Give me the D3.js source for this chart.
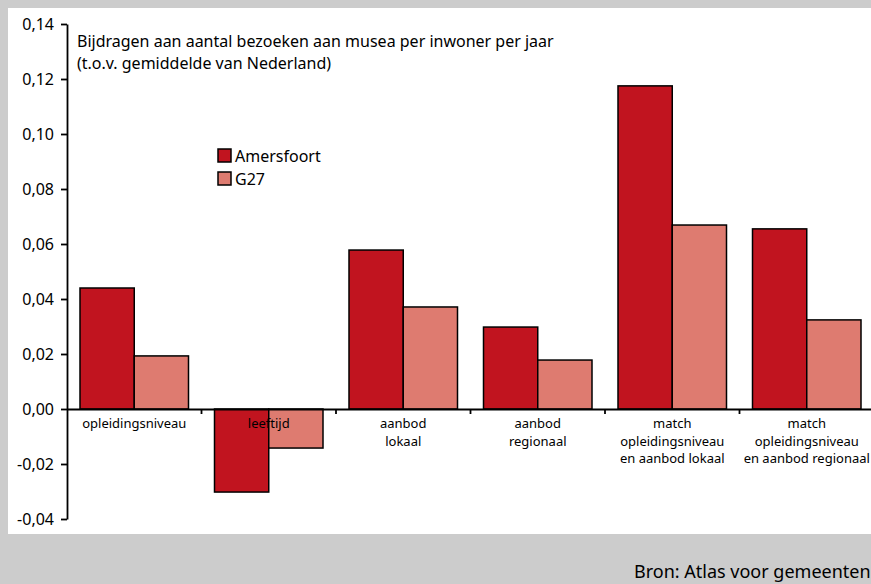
<!DOCTYPE html>
<html>
<head>
<meta charset="utf-8">
<script src="https://cdn.jsdelivr.net/npm/d3@7"></script>
<style>
  body { margin: 0; background: #cccccc; }
  text { font-family: "Noto Sans", sans-serif; fill: #000; }
</style>
</head>
<body>
<script>
// categories (each label split in lines as in the chart)
const categories = ["opleidingsniveau", "leeftijd", "aanbod lokaal", "aanbod regionaal",
    "match lokaal", "match regionaal"];
const categoryLines = [
    ["opleidingsniveau"],
    ["leeftijd"],
    ["aanbod", "lokaal"],
    ["aanbod", "regionaal"],
    ["match", "opleidingsniveau", "en aanbod lokaal"],
    ["match", "opleidingsniveau", "en aanbod regionaal"]
];
const series = ["Amersfoort", "G27"];
const amersfoort = [0.044, -0.0302, 0.0578, 0.0298, 0.1175, 0.0655];
const g27 = [0.0193, -0.0142, 0.0371, 0.0178, 0.0669, 0.0324];
const yTicks = [-0.04, -0.02, 0, 0.02, 0.04, 0.06, 0.08, 0.10, 0.12, 0.14];
const colors = ["#c1141f", "#de7b70"];

const width = 871;
const height = 584;

const svg = d3.select("body")
    .append("svg")
    .attr("width", width)
    .attr("height", height);

// grey page with white panel
svg.append("rect").attr("width", width).attr("height", height).attr("fill", "#cccccc");
svg.append("rect").attr("x", 8).attr("y", 8).attr("width", width).attr("height", 526).attr("fill", "#fff");

const nl = d3.formatLocale({decimal: ",", thousands: ".", grouping: [3], currency: ["€", ""], minus: "-"});
const fmt = nl.format(".2f");

const y = d3.scaleLinear().domain([-0.04, 0.14]).range([519, 24]);
const x0 = d3.scaleBand().domain(categories).range([67, 874]);
const x1 = d3.scaleBand().domain(series).range([13, x0.bandwidth() - 13]);

const rows = categories.map((c, i) => ({cat: c, values: [amersfoort[i], g27[i]]}));

// bars
const g = svg.append("g");
g.selectAll("g")
    .data(rows)
    .join("g")
    .attr("transform", d => `translate(${x0(d.cat)},0)`)
    .selectAll("rect")
    .data(d => d.values.map((v, k) => ({s: series[k], v: v, k: k})))
    .join("rect")
    .attr("x", d => x1(d.s))
    .attr("width", x1.bandwidth())
    .attr("y", d => y(Math.max(0, d.v)))
    .attr("height", d => Math.abs(y(d.v) - y(0)))
    .attr("fill", d => colors[d.k])
    .attr("stroke", "#000")
    .attr("stroke-width", 1.5);

// category labels (on top of the bars, like the original)
const lab = svg.append("g");
rows.forEach((r, i) => {
    const t = lab.append("text")
        .attr("x", x0(r.cat) + x0.bandwidth() / 2)
        .attr("y", y(0) + 19)
        .attr("text-anchor", "middle")
        .attr("font-size", 13);
    categoryLines[i].forEach((line, j) => {
        t.append("tspan")
            .attr("x", x0(r.cat) + x0.bandwidth() / 2)
            .attr("dy", j === 0 ? 0 : 17.5)
            .text(line);
    });
});

// y axis
const yAxis = svg.append("g")
    .attr("transform", "translate(67,0)")
    .call(d3.axisLeft(y).tickValues(yTicks).tickFormat(fmt).tickSize(6).tickSizeOuter(0).tickPadding(7));
yAxis.select(".domain").attr("stroke-width", 1.8);
yAxis.selectAll(".tick line").attr("stroke-width", 1.8);
yAxis.selectAll("text").attr("font-size", 16).attr("font-family", "Noto Sans, sans-serif");

// zero line with category separators
const xAxis = svg.append("g")
    .attr("transform", `translate(0,${y(0)})`)
    .call(d3.axisBottom(x0).tickValues([]).tickSizeOuter(0));
xAxis.select(".domain").attr("stroke-width", 1.8);
xAxis.selectAll(".sep")
    .data(categories.slice(1).concat(["end"]))
    .join("line")
    .attr("class", "sep")
    .attr("x1", (d, i) => 67 + x0.step() * (i + 1))
    .attr("x2", (d, i) => 67 + x0.step() * (i + 1))
    .attr("y1", 0).attr("y2", 5)
    .attr("stroke", "#000").attr("stroke-width", 1.8);

// chart title inside the plot
svg.append("text").attr("x", 77).attr("y", 47).attr("font-size", 16)
    .text("Bijdragen aan aantal bezoeken aan musea per inwoner per jaar");
svg.append("text").attr("x", 77).attr("y", 69).attr("font-size", 16)
    .text("(t.o.v. gemiddelde van Nederland)");

// legend
const legend = svg.append("g").attr("transform", "translate(218,149)");
series.forEach((s, k) => {
    legend.append("rect")
        .attr("x", 0).attr("y", k * 23)
        .attr("width", 13).attr("height", 13)
        .attr("fill", colors[k]).attr("stroke", "#000").attr("stroke-width", 1.5);
    legend.append("text")
        .attr("x", 17).attr("y", k * 23 + 12.5)
        .attr("font-size", 16)
        .text(s);
});

// source
svg.append("text").attr("x", 634).attr("y", 578).attr("font-size", 18)
    .text("Bron: Atlas voor gemeenten");
</script>
</body>
</html>
